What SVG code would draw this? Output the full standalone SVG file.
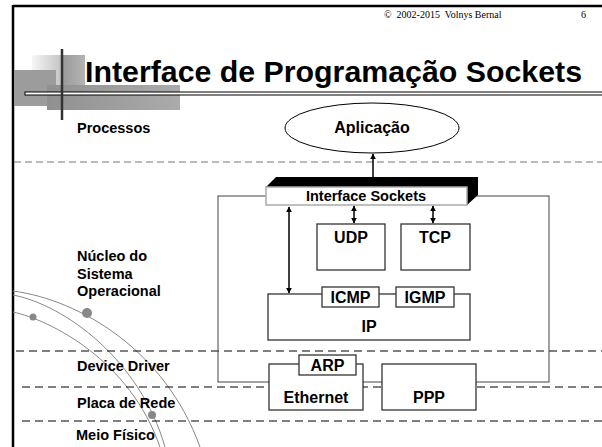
<svg xmlns="http://www.w3.org/2000/svg" width="602" height="447" viewBox="0 0 602 447">
<style>
.lbl{font-family:"Liberation Sans",Arial,sans-serif;font-weight:bold;font-size:14.5px;fill:#000}
.box{font-family:"Liberation Sans",Arial,sans-serif;font-weight:bold;font-size:16px;fill:#000;text-anchor:middle}
.rect{fill:#fff;stroke:#333;stroke-width:1.3}
.dash{fill:none;stroke:#000;stroke-width:1;stroke-dasharray:8 5}
.arc{fill:none;stroke:#888;stroke-width:1}
.arr{stroke:#000;stroke-width:1.5;fill:none}
</style>
<defs>
<marker id="ah" viewBox="0 0 10 10" refX="9" refY="5" markerWidth="4" markerHeight="5" orient="auto-start-reverse" markerUnits="strokeWidth">
<path d="M0,0 L10,5 L0,10 z" fill="#000"/>
</marker>
<linearGradient id="gA" x1="0" y1="0" x2="1" y2="0">
<stop offset="0" stop-color="#f6f6f6"/>
<stop offset="0.55" stop-color="#c4c4c4"/>
<stop offset="0.57" stop-color="#9a9a9a"/>
<stop offset="1" stop-color="#b4b4b4"/>
</linearGradient>
<linearGradient id="gC" x1="0" y1="0" x2="1" y2="0">
<stop offset="0" stop-color="#909090"/>
<stop offset="1" stop-color="#ababab"/>
</linearGradient>
</defs>

<!-- frame -->
<g id="frame">
<line x1="13" y1="6" x2="602" y2="6" stroke="#000" stroke-width="2.5"/>
<line x1="13" y1="5" x2="13" y2="447" stroke="#000" stroke-width="2.5"/>
</g>

<!-- decorative arcs -->
<g id="arcs">
<path class="arc" d="M13,291 C80,300 165,350 200,447"/>
<path class="arc" d="M13,295 C65,305 140,360 165,447"/>
<path class="arc" d="M13,312 C50,320 130,360 160,447"/>
<circle cx="87" cy="313" r="5" fill="#888"/>
<circle cx="33" cy="317" r="3.5" fill="#888"/>
<circle cx="152" cy="415" r="4" fill="#888"/>
</g>

<!-- header -->
<g id="header">
<text x="384" y="18" font-family="'Liberation Serif','Times New Roman',serif" font-size="10" xml:space="preserve">©  2002-2015  Volnys Bernal</text>
<text x="581" y="18" font-family="'Liberation Serif','Times New Roman',serif" font-size="10">6</text>
</g>

<!-- title decoration -->
<g id="title">
<rect x="32" y="55" width="53" height="30" fill="url(#gA)"/>
<rect x="14" y="70" width="42" height="36" fill="#9c9c9c"/>
<rect x="47" y="85" width="133" height="25" fill="url(#gC)"/>
<rect x="25" y="92" width="578" height="3" fill="#fff" stroke="#000" stroke-width="1"/>
<line x1="62" y1="49" x2="62" y2="120" stroke="#333" stroke-width="2.5"/>
<text x="85" y="82" font-family="'Liberation Sans',Arial,sans-serif" font-weight="bold" font-size="30" textLength="497" lengthAdjust="spacingAndGlyphs">Interface de Programação Sockets</text>
</g>

<!-- layer separators -->
<g id="separators">
<line x1="14" y1="162" x2="602" y2="162" stroke="#777" stroke-width="1" stroke-dasharray="7 4"/>
<line class="dash" x1="16" y1="351" x2="602" y2="351"/>
<line class="dash" x1="22" y1="387" x2="602" y2="387"/>
<line class="dash" x1="22" y1="421" x2="602" y2="421"/>
</g>

<!-- layer labels -->
<g id="labels">
<text class="lbl" x="77" y="133">Processos</text>
<text class="lbl" x="77" y="261">Núcleo do</text>
<text class="lbl" x="77" y="279">Sistema</text>
<text class="lbl" x="77" y="296">Operacional</text>
<text class="lbl" x="77" y="371">Device Driver</text>
<text class="lbl" x="77" y="408">Placa de Rede</text>
<text class="lbl" x="76" y="440">Meio Físico</text>
</g>

<!-- kernel box -->
<g id="kernel">
<rect x="218" y="196" width="331" height="186" fill="none" stroke="#444" stroke-width="1"/>
</g>

<g id="aplicacao">
<ellipse cx="372" cy="128" rx="87" ry="25" fill="#fff" stroke="#000" stroke-width="1"/>
<text class="box" x="372" y="133">Aplicação</text>
</g>

<g id="sockets">
<polygon points="266,187 276,177 478,177 478,195 467,205 467,187" fill="#000"/>
<rect x="266" y="187" width="201" height="18" fill="#fff" stroke="#aaa" stroke-width="1.5"/>
<text class="lbl" x="366" y="201" text-anchor="middle">Interface Sockets</text>
</g>

<g id="udp">
<rect class="rect" x="317" y="224" width="68" height="46"/>
<text class="box" x="351" y="243">UDP</text>
</g>
<g id="tcp">
<rect class="rect" x="401" y="224" width="69" height="46"/>
<text class="box" x="435" y="243">TCP</text>
</g>

<g id="ip">
<rect class="rect" x="268" y="294" width="202" height="46"/>
<text class="box" x="369" y="332">IP</text>
</g>
<g id="icmp">
<rect class="rect" x="322" y="287" width="57" height="20"/>
<text class="box" x="350.5" y="303">ICMP</text>
</g>
<g id="igmp">
<rect class="rect" x="396" y="287" width="58" height="20"/>
<text class="box" x="425" y="303">IGMP</text>
</g>

<g id="ethernet">
<rect class="rect" x="269" y="364" width="94" height="46"/>
<text class="box" x="316" y="403">Ethernet</text>
</g>
<g id="arp">
<rect class="rect" x="299" y="355" width="57" height="20"/>
<text class="box" x="327.5" y="371">ARP</text>
</g>
<g id="ppp">
<rect class="rect" x="382" y="364" width="94" height="46"/>
<text class="box" x="429" y="403">PPP</text>
</g>

<!-- connectors -->
<g id="connectors">
<line class="arr" x1="373" y1="177" x2="373" y2="154" marker-end="url(#ah)"/>
<line class="arr" x1="289" y1="207" x2="289" y2="293" marker-start="url(#ah)" marker-end="url(#ah)"/>
<line class="arr" x1="354" y1="206" x2="354" y2="223" marker-start="url(#ah)" marker-end="url(#ah)"/>
<line class="arr" x1="433" y1="206" x2="433" y2="223" marker-start="url(#ah)" marker-end="url(#ah)"/>
</g>
</svg>
